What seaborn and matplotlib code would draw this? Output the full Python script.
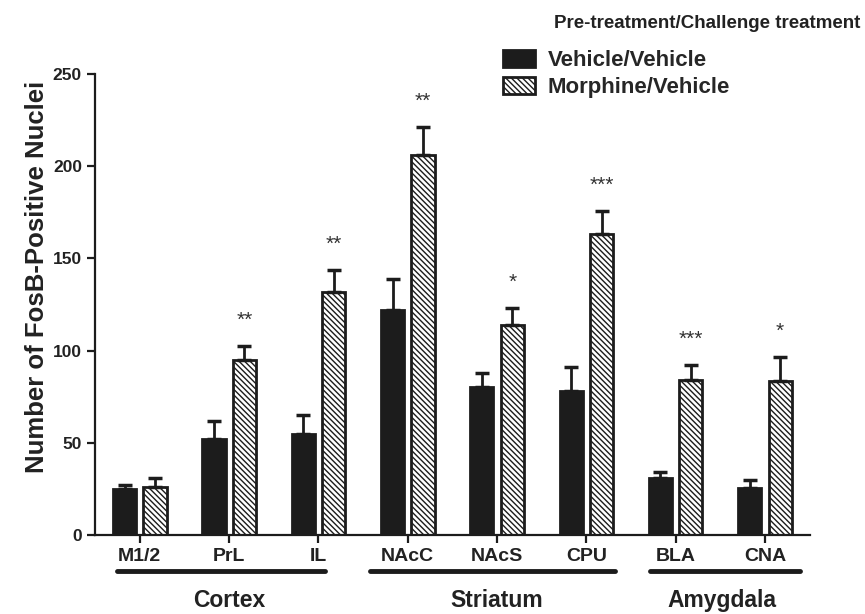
import matplotlib
matplotlib.use("Agg")
import matplotlib.pyplot as plt
import matplotlib.patches as mpatches
import seaborn as sns
import pandas as pd
import numpy as np

# values
regions = ["M1/2", "PrL", "IL", "NAcC", "NAcS", "CPU", "BLA", "CNA"]
groups = ["Vehicle/Vehicle", "Morphine/Vehicle"]
veh_mean = [25, 52, 55, 122, 80, 78, 31, 25.5]
veh_sem = [2, 10, 10, 17, 8, 13, 3, 4.5]
mor_mean = [26, 95, 132, 206, 114, 163, 84, 83.5]
mor_sem = [5, 7.5, 11.5, 15, 9, 12.5, 8, 13]
stars = ["", "**", "**", "**", "*", "***", "***", "*"]
brain_areas = ["Cortex", "Striatum", "Amygdala"]
area_lines = [(-0.25, 2.07), (2.58, 5.32), (5.71, 7.39)]
area_centers = [1.0, 4.0, 6.52]

df = pd.DataFrame({
    "region": regions * 2,
    "group": [groups[0]] * 8 + [groups[1]] * 8,
    "mean": veh_mean + mor_mean,
    "sem": veh_sem + mor_sem,
})

sns.set_style("ticks")
plt.rcParams["font.family"] = ["Liberation Sans", "DejaVu Sans"]
plt.rcParams["hatch.linewidth"] = 1.0
hatch = "\\\\\\\\\\\\"

fig = plt.figure(figsize=(8.65, 6.14), dpi=100)
ax = fig.add_axes([0.11, 0.1287, 0.826, 0.7508])

sns.barplot(data=df, x="region", y="mean", hue="group", order=regions,
            hue_order=groups, palette=["#1c1c1c", "white"], width=0.68,
            gap=0.235, errorbar=None, edgecolor="#1c1c1c", linewidth=2,
            legend=False, ax=ax)

bars = ax.patches
n = len(regions)
for i, p in enumerate(bars[:2 * n]):
    if i >= n:
        p.set_hatch(hatch)
    xc = p.get_x() + p.get_width() / 2
    m = df["mean"].iloc[i]
    s = df["sem"].iloc[i]
    ax.errorbar(xc, m, yerr=[[0], [s]], fmt="none", ecolor="#1c1c1c",
                elinewidth=2, capsize=5, capthick=2.5, zorder=1)
    if i >= n and stars[i - n]:
        ax.text(xc, m + s + 9, stars[i - n], ha="center", va="bottom",
                fontsize=15, color="#333333")

ax.set_ylim(0, 250)
ax.set_xlim(-0.5, 7.5)
ax.set_yticks([0, 50, 100, 150, 200, 250])
sns.despine(ax=ax)
for sp in ["left", "bottom"]:
    ax.spines[sp].set_linewidth(1.6)
    ax.spines[sp].set_color("#1c1c1c")
ax.tick_params(axis="both", width=1.6, length=6, color="#1c1c1c")
ax.tick_params(axis="y", labelsize=12.5)
ax.tick_params(axis="x", labelsize=14)
for lab in ax.get_yticklabels() + ax.get_xticklabels():
    lab.set_fontweight("bold")
    lab.set_color("#222222")
ax.set_xlabel("")
ax.set_ylabel("Number of FosB-Positive Nuclei", fontsize=18.5,
              fontweight="bold", color="#222222")
ax.yaxis.set_label_coords(-0.064, 0.56)

# brain area brackets under tick labels
trans = ax.get_xaxis_transform()
for name, (a, b), c in zip(brain_areas, area_lines, area_centers):
    ax.plot([a, b], [-0.078, -0.078], transform=trans,
            color="#1c1c1c", lw=3.5, clip_on=False, solid_capstyle="round")
    ax.text(c, -0.118, name, transform=trans, ha="center",
            va="top", fontsize=16.5, fontweight="bold", color="#222222")

handles = [mpatches.Patch(facecolor="#1c1c1c", edgecolor="#1c1c1c", lw=2),
           mpatches.Patch(facecolor="white", edgecolor="#1c1c1c", lw=2,
                          hatch=hatch)]
leg = fig.legend(handles, groups, loc="upper left",
                 bbox_to_anchor=(0.5815, 0.918), frameon=False,
                 prop={"weight": "bold", "size": 16}, handlelength=1.45,
                 handleheight=0.75, labelspacing=0.27, handletextpad=0.55,
                 borderpad=0, borderaxespad=0)
fig.text(0.641, 0.962, "Pre-treatment/Challenge treatment", ha="left",
         va="center", fontsize=13.5, fontweight="bold", color="#222222")

fig.savefig("out.png", dpi=100, facecolor="white")
